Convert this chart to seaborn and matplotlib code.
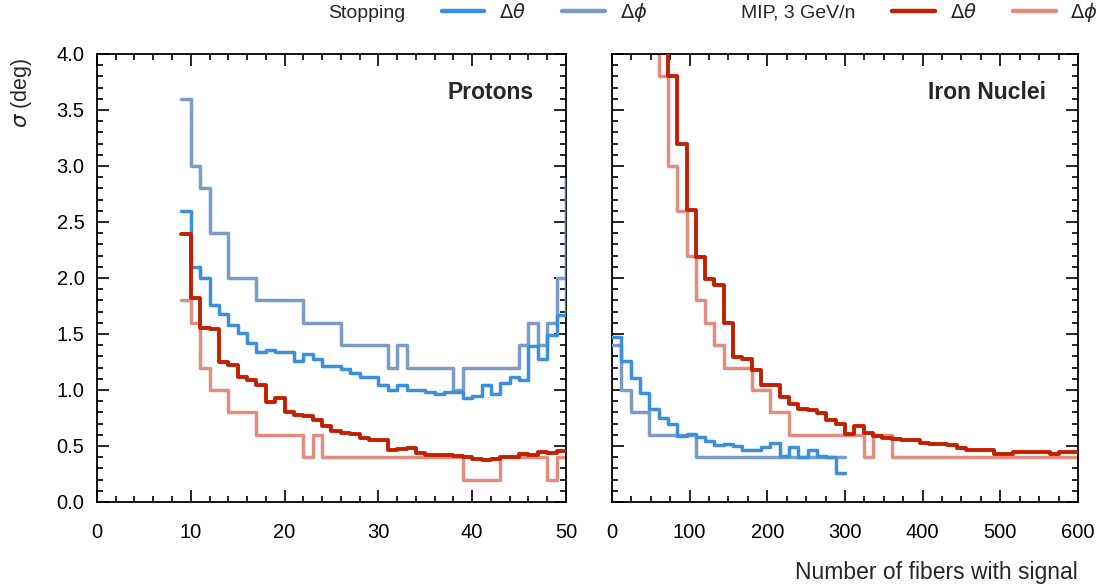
import numpy as np
import pandas as pd
import matplotlib
matplotlib.use("Agg")
import matplotlib.pyplot as plt
from matplotlib.lines import Line2D
from matplotlib.ticker import MultipleLocator, FormatStrFormatter
import seaborn as sns

# ---------------- data ----------------
# Protons panel: bins of width 1
p_start = 9
p_width = 1
p_stop_theta = [2.60, 2.10, 2.00, 1.76, 1.68, 1.58, 1.51, 1.42, 1.34, 1.36, 1.34, 1.34,
                1.26, 1.32, 1.28, 1.21, 1.21, 1.19, 1.15, 1.12, 1.12, 1.04, 1.00, 1.04,
                1.00, 1.00, 0.98, 0.96, 0.985, 0.98, 0.93, 0.95, 1.04, 0.96, 1.06, 1.12,
                1.09, 1.39, 1.28, 1.49, 1.67, 2.88]
p_stop_phi = [3.6, 3.0, 2.8, 2.4, 2.4, 2.0, 2.0, 2.0, 1.8, 1.8, 1.8, 1.8, 1.8,
              1.6, 1.6, 1.6, 1.6, 1.4, 1.4, 1.4, 1.4, 1.4, 1.2, 1.4, 1.2, 1.2,
              1.2, 1.2, 1.2, 1.0, 1.2, 1.2, 1.2, 1.2, 1.2, 1.2, 1.4, 1.6, 1.4,
              1.6, 2.0, 2.88]
p_mip_theta = [2.39, 1.82, 1.55, 1.54, 1.25, 1.22, 1.12, 1.09, 1.04, 0.89, 0.93, 0.80,
               0.78, 0.77, 0.73, 0.68, 0.63, 0.62, 0.61, 0.57, 0.55, 0.55, 0.46, 0.47,
               0.48, 0.44, 0.42, 0.42, 0.42, 0.41, 0.40, 0.385, 0.375, 0.385, 0.40,
               0.405, 0.43, 0.42, 0.45, 0.44, 0.455]
p_mip_phi = [1.8, 1.6, 1.2, 1.0, 1.0, 0.8, 0.8, 0.8, 0.6, 0.6, 0.6, 0.6, 0.6,
             0.4, 0.6, 0.4, 0.4, 0.4, 0.4, 0.4, 0.4, 0.4, 0.4, 0.4, 0.4, 0.4,
             0.4, 0.4, 0.4, 0.4, 0.2, 0.2, 0.2, 0.2, 0.4, 0.4, 0.4, 0.4, 0.4,
             0.2, 0.4]

# Iron panel: bins of width 12
f_width = 12
f_stop_theta_start = 0
f_stop_theta = [1.47, 1.26, 1.11, 0.97, 0.83, 0.75, 0.70, 0.59, 0.61, 0.58, 0.54, 0.51,
                0.52, 0.50, 0.46, 0.46, 0.49, 0.53, 0.41, 0.49, 0.40, 0.46, 0.41, 0.40,
                0.26]
f_stop_phi_start = 0
f_stop_phi = [1.4, 1.0, 0.8, 0.8, 0.6, 0.6, 0.6, 0.6, 0.6, 0.4, 0.4, 0.4, 0.4,
              0.4, 0.4, 0.4, 0.4, 0.4, 0.4, 0.4, 0.4, 0.4, 0.4, 0.4, 0.4]
f_mip_theta_start = 60
f_mip_theta = [4.5, 3.80, 3.20, 2.61, 2.19, 1.99, 1.94, 1.60, 1.29, 1.28, 1.18, 1.04,
               1.04, 0.94, 0.875, 0.83, 0.82, 0.79, 0.73, 0.70, 0.61, 0.68, 0.62,
               0.59, 0.57, 0.56, 0.55, 0.55, 0.53, 0.52, 0.52, 0.51, 0.485, 0.46,
               0.46, 0.46, 0.43, 0.43, 0.45, 0.45, 0.45, 0.45, 0.43, 0.45, 0.45]
f_mip_phi_start = 48
f_mip_phi = [4.5, 3.8, 3.0, 2.6, 2.2, 1.8, 1.6, 1.4, 1.2, 1.2, 1.2, 1.0, 1.0, 0.8,
             0.8, 0.6, 0.6, 0.6, 0.6, 0.6, 0.6, 0.6, 0.6, 0.4, 0.6, 0.6, 0.4, 0.4,
             0.4, 0.4, 0.4, 0.4, 0.4, 0.4, 0.4, 0.4, 0.4, 0.4, 0.4, 0.4, 0.4, 0.4,
             0.4, 0.4, 0.4, 0.4]

colors = {"Stopping Δθ": "#3b8fdc", "Stopping Δφ": "#7b9bc9",
          "MIP Δθ": "#c22000", "MIP Δφ": "#e28d7e"}
widths = {"Stopping Δθ": 2.5, "Stopping Δφ": 2.5, "MIP Δθ": 2.8, "MIP Δφ": 2.5}

# ---------------- style ----------------
sns.set_style("ticks")
plt.rcParams['font.family'] = ['Liberation Sans', 'DejaVu Sans']
plt.rcParams['mathtext.fontset'] = 'dejavusans'

fig = plt.figure(figsize=(11.08, 5.88), dpi=100)
axL = fig.add_axes([0.0875, 0.1463, 0.4233, 0.7619])
axR = fig.add_axes([0.5523, 0.1463, 0.4206, 0.7619])


def step_frame(start, width, vals):
    edges = start + width * np.arange(len(vals) + 1)
    y = list(vals) + [vals[-1]]
    return pd.DataFrame({"x": edges, "y": y})


def draw(ax, start, width, vals, key, z):
    df = step_frame(start, width, vals)
    sns.lineplot(data=df, x="x", y="y", ax=ax, color=colors[key], lw=widths[key],
                 drawstyle="steps-post", estimator=None, sort=False, zorder=z)

draw(axL, p_start, p_width, p_mip_phi, "MIP Δφ", 2)
draw(axL, p_start, p_width, p_stop_phi, "Stopping Δφ", 3)
draw(axL, p_start, p_width, p_stop_theta, "Stopping Δθ", 4)
draw(axL, p_start, p_width, p_mip_theta, "MIP Δθ", 5)

draw(axR, f_mip_phi_start, f_width, f_mip_phi, "MIP Δφ", 2)
draw(axR, f_stop_phi_start, f_width, f_stop_phi, "Stopping Δφ", 3)
draw(axR, f_stop_theta_start, f_width, f_stop_theta, "Stopping Δθ", 4)
draw(axR, f_mip_theta_start, f_width, f_mip_theta, "MIP Δθ", 5)

axL.set_xlim(0, 50)
axR.set_xlim(0, 600)
for ax in (axL, axR):
    ax.set_ylim(0, 4.0)
    ax.set_xlabel("")
    ax.set_ylabel("")
    ax.yaxis.set_major_locator(MultipleLocator(0.5))
    ax.yaxis.set_minor_locator(MultipleLocator(0.1))
    ax.tick_params(which="both", direction="in", top=True, right=True,
                   labelsize=14.5, width=1.2, colors="black")
    ax.tick_params(which="major", length=8.5)
    ax.tick_params(which="minor", length=4)
    ax.tick_params(axis="x", which="major", pad=15)
    ax.tick_params(axis="y", which="major", pad=9)
    for s in ax.spines.values():
        s.set_linewidth(1.3)
        s.set_color("black")

axL.xaxis.set_major_locator(MultipleLocator(10))
axL.xaxis.set_minor_locator(MultipleLocator(2))
axR.xaxis.set_major_locator(MultipleLocator(100))
axR.xaxis.set_minor_locator(MultipleLocator(25))
axL.yaxis.set_major_formatter(FormatStrFormatter("%.1f"))
axR.tick_params(labelleft=False)

axL.text(0.93, 0.915, "Protons", transform=axL.transAxes, ha="right", va="center",
         fontsize=16.5, fontweight="bold")
axR.text(0.931, 0.915, "Iron Nuclei", transform=axR.transAxes, ha="right", va="center",
         fontsize=16.5, fontweight="bold")

fig.text(0.019, 1 - 58 / 588, r"$\sigma$ (deg)", rotation=90, ha="center", va="top",
         fontsize=15.5)
fig.text(0.9729, 0.027, "Number of fibers with signal", ha="right", va="center",
         fontsize=16.5)

blank = Line2D([], [], color="none")
handles = [blank,
           Line2D([], [], color=colors["Stopping Δθ"], lw=3.2),
           Line2D([], [], color=colors["Stopping Δφ"], lw=3.2),
           blank,
           Line2D([], [], color=colors["MIP Δθ"], lw=3.2),
           Line2D([], [], color=colors["MIP Δφ"], lw=3.2)]
labels = ["Stopping", r"$\Delta\theta$", r"$\Delta\phi$",
          "MIP, 3 GeV/n", r"$\Delta\theta$", r"$\Delta\phi$"]
leg = fig.legend(handles, labels, loc="center", bbox_to_anchor=(0.6175, 0.979), ncol=6,
                 frameon=False, fontsize=14, handlelength=2.2, handletextpad=0.75,
                 columnspacing=1.88, borderaxespad=0, borderpad=0)

fig.savefig("out.png", dpi=100)
